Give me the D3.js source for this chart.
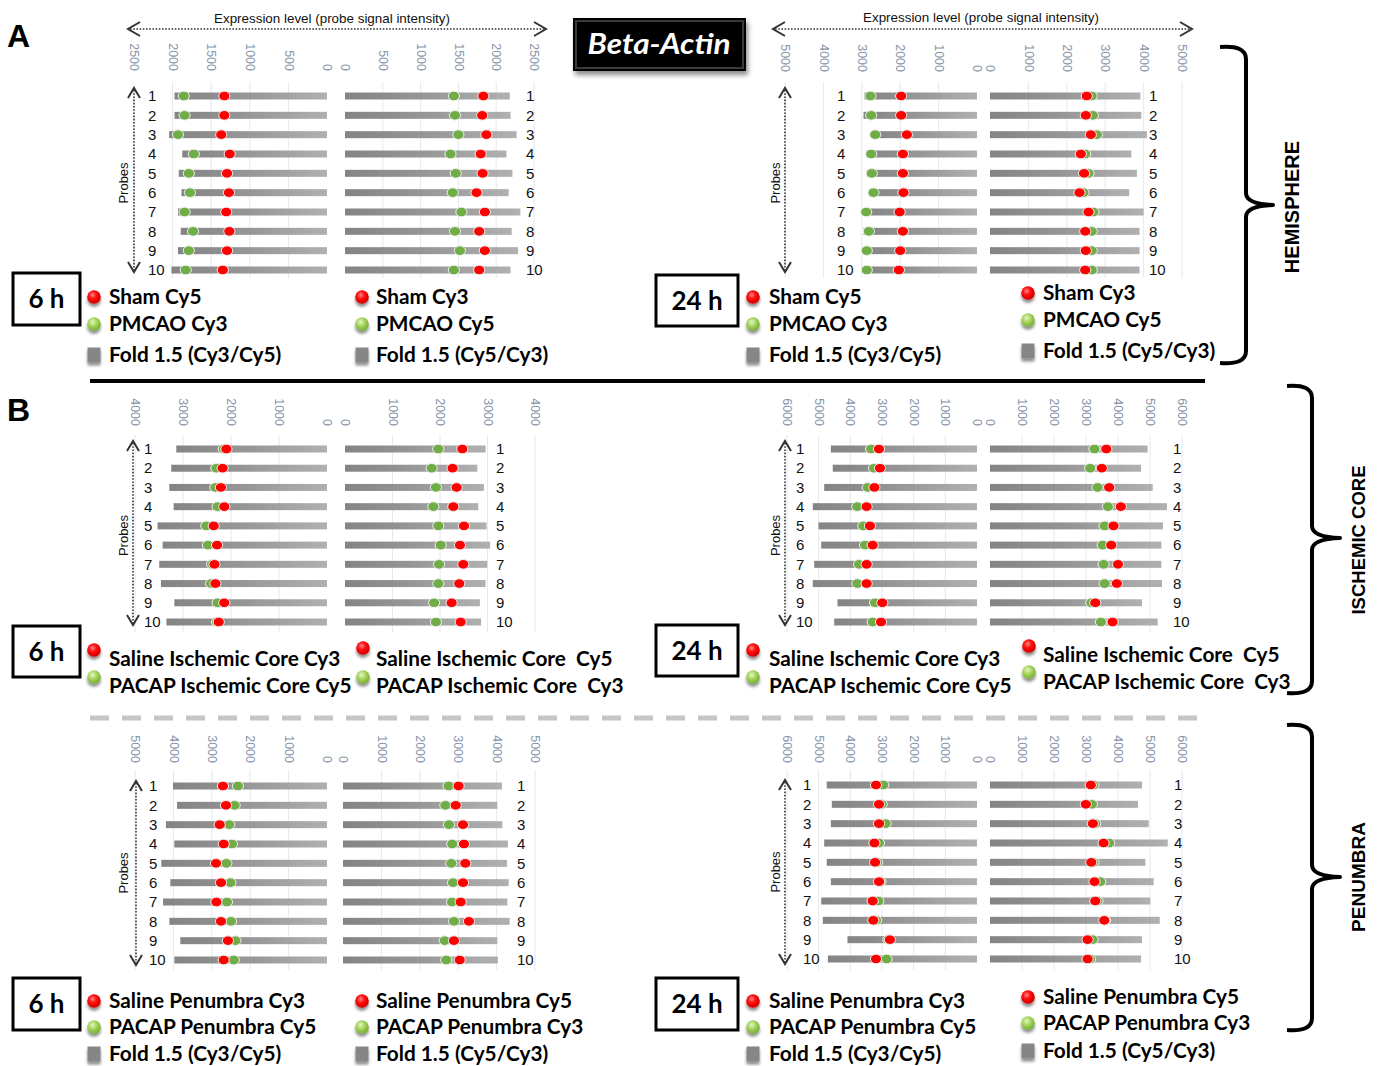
<!DOCTYPE html>
<html>
<head>
<meta charset="utf-8">
<script src="https://cdn.jsdelivr.net/npm/d3@7"></script>
<style>
  body { margin: 0; background: #fff; }
  svg { display: block; }
</style>
</head>
<body>
<svg id="fig" width="1384" height="1066"></svg>
<script>
// probes (rows) shared by every panel
const probes = [1, 2, 3, 4, 5, 6, 7, 8, 9, 10];

// tick values
const ticks2500 = [0, 500, 1000, 1500, 2000, 2500];
const ticks4000 = [0, 1000, 2000, 3000, 4000];
const ticks5000 = [0, 1000, 2000, 3000, 4000, 5000];
const ticks6000 = [0, 1000, 2000, 3000, 4000, 5000, 6000];

// A - hemisphere 6 h
const hemi6hLeftFold   = [1975, 1975, 2045, 1875, 1920, 1885, 1930, 1895, 1930, 2015];
const hemi6hLeftGreen  = [1855, 1845, 1930, 1725, 1790, 1775, 1845, 1735, 1790, 1830];
const hemi6hLeftRed    = [1330, 1330, 1370, 1260, 1295, 1270, 1305, 1265, 1295, 1350];
const hemi6hRightFold  = [2180, 2190, 2270, 2135, 2215, 2165, 2320, 2205, 2290, 2190];
const hemi6hRightGreen = [1440, 1455, 1500, 1395, 1465, 1425, 1540, 1455, 1520, 1440];
const hemi6hRightRed   = [1830, 1815, 1870, 1795, 1820, 1740, 1850, 1775, 1850, 1775];

// A - hemisphere 24 h
const hemi24hLeftFold   = [2930, 2955, 2755, 2885, 2870, 2815, 2990, 2955, 2955, 2975];
const hemi24hLeftGreen  = [2775, 2755, 2650, 2755, 2740, 2695, 2885, 2815, 2870, 2870];
const hemi24hLeftRed    = [1975, 1975, 1825, 1930, 1930, 1915, 2015, 1930, 2000, 2035];
const hemi24hRightFold  = [3915, 3940, 4085, 3680, 3825, 3625, 4000, 3895, 3895, 3895];
const hemi24hRightGreen = [2650, 2680, 2785, 2480, 2565, 2435, 2695, 2650, 2650, 2650];
const hemi24hRightRed   = [2520, 2495, 2625, 2365, 2450, 2330, 2565, 2480, 2495, 2480];

// B - ischemic core 6 h
const core6hLeftFold   = [3140, 3245, 3285, 3195, 3530, 3425, 3495, 3460, 3180, 3345];
const core6hLeftGreen  = [2150, 2305, 2325, 2280, 2515, 2480, 2395, 2415, 2280, 2290];
const core6hLeftRed    = [2095, 2175, 2210, 2140, 2360, 2290, 2345, 2325, 2140, 2255];
const core6hRightFold  = [2960, 2785, 2925, 2805, 2980, 3055, 2995, 2960, 2840, 2865];
const core6hRightGreen = [1965, 1825, 1915, 1860, 1965, 2015, 1980, 1965, 1875, 1915];
const core6hRightRed   = [2470, 2265, 2350, 2280, 2505, 2420, 2490, 2405, 2245, 2435];

// B - ischemic core 24 h
const core24hLeftFold   = [4615, 4555, 4825, 5185, 5005, 4920, 5140, 5185, 4405, 4510];
const core24hLeftGreen  = [3345, 3255, 3450, 3780, 3590, 3535, 3725, 3780, 3220, 3295];
const core24hLeftRed    = [3095, 3065, 3240, 3485, 3380, 3295, 3485, 3485, 2990, 3030];
const core24hRightFold  = [4925, 4720, 5085, 5530, 5405, 5355, 5355, 5375, 4750, 5240];
const core24hRightGreen = [3265, 3130, 3360, 3685, 3580, 3520, 3550, 3580, 3165, 3465];
const core24hRightRed   = [3635, 3495, 3725, 4090, 3860, 3790, 4000, 3965, 3290, 3830];

// B - penumbra 6 h
const pen6hLeftFold   = [4010, 3905, 4195, 3975, 4315, 4080, 4270, 4105, 3820, 3975];
const pen6hLeftGreen  = [2320, 2405, 2545, 2475, 2620, 2515, 2605, 2500, 2385, 2430];
const pen6hLeftRed    = [2710, 2630, 2795, 2690, 2890, 2760, 2880, 2760, 2580, 2690];
const pen6hRightFold  = [4140, 4020, 4150, 4295, 4270, 4315, 4280, 4340, 4020, 4035];
const pen6hRightGreen = [2750, 2665, 2760, 2845, 2820, 2865, 2840, 2890, 2650, 2690];
const pen6hRightRed   = [3010, 2935, 3125, 3150, 3185, 3125, 3065, 3280, 2890, 3040];

// B - penumbra 24 h
const pen24hLeftFold   = [4745, 4585, 4615, 4825, 4745, 4615, 4920, 4870, 4090, 4710];
const pen24hLeftGreen  = [2960, 3010, 2885, 3095, 3150, 3045, 3115, 3190, 2800, 2855];
const pen24hLeftRed    = [3190, 3095, 3095, 3240, 3220, 3095, 3295, 3275, 2750, 3190];
const pen24hRightFold  = [4750, 4625, 4960, 5555, 4855, 5115, 5010, 5305, 4750, 4720];
const pen24hRightGreen = [3235, 3185, 3290, 3725, 3235, 3445, 3360, 3600, 3205, 3130];
const pen24hRightRed   = [3150, 2995, 3215, 3550, 3165, 3265, 3290, 3570, 3050, 3050];

// legend texts
const hemiLegendLeft  = ['Sham Cy5', 'PMCAO Cy3', 'Fold 1.5 (Cy3/Cy5)'];
const hemiLegendRight = ['Sham Cy3', 'PMCAO Cy5', 'Fold 1.5 (Cy5/Cy3)'];
const coreLegendLeft  = ['Saline Ischemic Core Cy3', 'PACAP Ischemic Core Cy5'];
const coreLegendRight = ['Saline Ischemic Core  Cy5', 'PACAP Ischemic Core  Cy3'];
const penLegendLeft   = ['Saline Penumbra Cy3', 'PACAP Penumbra Cy5', 'Fold 1.5 (Cy3/Cy5)'];
const penLegendRight  = ['Saline Penumbra Cy5', 'PACAP Penumbra Cy3', 'Fold 1.5 (Cy5/Cy3)'];
const markerKinds = ['red', 'green', 'square'];

const AXIS_TITLE = 'Expression level (probe signal intensity)';
const LEGEND_FONT = 'Lato, "Open Sans", sans-serif';
const SANS = '"Liberation Sans", Arial, sans-serif';

const svg = d3.select('#fig');
const defs = svg.append('defs');

setupDefs();
drawFrame();

// panels
drawPanel({ max: 2500, ticks: ticks2500, leftZero: 327, leftMax: 134, rightZero: 345, rightMax: 534,
  tickY: 71, rowTop: 96, rowBottom: 270, gridTop: 82, gridBottom: 278,
  leftLabelX: 148, rightLabelX: 526, arrowX: 134, arrowTop: 88, arrowBottom: 272, probesX: 123,
  lf: hemi6hLeftFold, lg: hemi6hLeftGreen, lr: hemi6hLeftRed,
  rf: hemi6hRightFold, rg: hemi6hRightGreen, rr: hemi6hRightRed });

drawPanel({ max: 5000, ticks: ticks5000, leftZero: 977, leftMax: 785, rightZero: 990, rightMax: 1182,
  tickY: 72, rowTop: 96, rowBottom: 270, gridTop: 82, gridBottom: 278,
  leftLabelX: 837, rightLabelX: 1149, arrowX: 785, arrowTop: 88, arrowBottom: 272, probesX: 775,
  lf: hemi24hLeftFold, lg: hemi24hLeftGreen, lr: hemi24hLeftRed,
  rf: hemi24hRightFold, rg: hemi24hRightGreen, rr: hemi24hRightRed });

drawPanel({ max: 4000, ticks: ticks4000, leftZero: 327, leftMax: 135, rightZero: 345, rightMax: 535,
  tickY: 426, rowTop: 449, rowBottom: 622, gridTop: 435, gridBottom: 632,
  leftLabelX: 144, rightLabelX: 496, arrowX: 133, arrowTop: 441, arrowBottom: 625, probesX: 123,
  lf: core6hLeftFold, lg: core6hLeftGreen, lr: core6hLeftRed,
  rf: core6hRightFold, rg: core6hRightGreen, rr: core6hRightRed });

drawPanel({ max: 6000, ticks: ticks6000, leftZero: 977, leftMax: 787, rightZero: 990, rightMax: 1182,
  tickY: 426, rowTop: 449, rowBottom: 622, gridTop: 435, gridBottom: 632,
  leftLabelX: 796, rightLabelX: 1173, arrowX: 785, arrowTop: 441, arrowBottom: 625, probesX: 775,
  lf: core24hLeftFold, lg: core24hLeftGreen, lr: core24hLeftRed,
  rf: core24hRightFold, rg: core24hRightGreen, rr: core24hRightRed });

drawPanel({ max: 5000, ticks: ticks5000, leftZero: 327, leftMax: 135, rightZero: 343, rightMax: 535,
  tickY: 763, rowTop: 786, rowBottom: 960, gridTop: 770, gridBottom: 970,
  leftLabelX: 149, rightLabelX: 517, arrowX: 136, arrowTop: 781, arrowBottom: 965, probesX: 123,
  lf: pen6hLeftFold, lg: pen6hLeftGreen, lr: pen6hLeftRed,
  rf: pen6hRightFold, rg: pen6hRightGreen, rr: pen6hRightRed });

drawPanel({ max: 6000, ticks: ticks6000, leftZero: 977, leftMax: 787, rightZero: 990, rightMax: 1182,
  tickY: 763, rowTop: 785, rowBottom: 959, gridTop: 770, gridBottom: 970,
  leftLabelX: 803, rightLabelX: 1174, arrowX: 785, arrowTop: 780, arrowBottom: 964, probesX: 775,
  lf: pen24hLeftFold, lg: pen24hLeftGreen, lr: pen24hLeftRed,
  rf: pen24hRightFold, rg: pen24hRightGreen, rr: pen24hRightRed });

// axis titles with dotted arrows (panel A only)
axisTitle(332, 18, 128, 546, 29);
axisTitle(981, 17, 773, 1192, 29);

// time boxes
timeBox(13, 273, 67, 52, '6 h');
timeBox(656, 275, 82, 51, '24 h');
timeBox(13, 626, 67, 51, '6 h');
timeBox(656, 625, 82, 51, '24 h');
timeBox(13, 978, 67, 52, '6 h');
timeBox(656, 978, 82, 52, '24 h');

// legends
legend(94, 109, [297, 324, 355], hemiLegendLeft);
legend(362, 376, [297, 324, 355], hemiLegendRight);
legend(753, 769, [297, 324, 355], hemiLegendLeft);
legend(1028, 1043, [293, 320, 351], hemiLegendRight);

legend(94, 109, [650, 677], coreLegendLeft, [659, 686]);
legend(363, 376, [648, 677], coreLegendRight, [659, 686]);
legend(753, 769, [650, 677], coreLegendLeft, [659, 686]);
legend(1029, 1043, [646, 672], coreLegendRight, [655, 682]);

legend(94, 109, [1001, 1027, 1054], penLegendLeft);
legend(362, 376, [1001, 1027, 1054], penLegendRight);
legend(753, 769, [1001, 1027, 1054], penLegendLeft);
legend(1028, 1043, [997, 1023, 1051], penLegendRight);

function setupDefs () {
  const bar = defs.append('linearGradient').attr('id', 'barGrad')
    .attr('x1', 0).attr('x2', 1).attr('y1', 0).attr('y2', 0);
  bar.append('stop').attr('offset', '0%').attr('stop-color', '#848484');
  bar.append('stop').attr('offset', '45%').attr('stop-color', '#959595');
  bar.append('stop').attr('offset', '100%').attr('stop-color', '#b0b0b0');

  const red = defs.append('radialGradient').attr('id', 'redBall')
    .attr('cx', '40%').attr('cy', '35%').attr('r', '65%');
  red.append('stop').attr('offset', '0%').attr('stop-color', '#ff8a8a');
  red.append('stop').attr('offset', '45%').attr('stop-color', '#ff0a0a');
  red.append('stop').attr('offset', '100%').attr('stop-color', '#d40000');

  const green = defs.append('radialGradient').attr('id', 'greenBall')
    .attr('cx', '40%').attr('cy', '35%').attr('r', '65%');
  green.append('stop').attr('offset', '0%').attr('stop-color', '#e4f6c4');
  green.append('stop').attr('offset', '50%').attr('stop-color', '#a3d35a');
  green.append('stop').attr('offset', '100%').attr('stop-color', '#77ae36');

  const sh = defs.append('filter').attr('id', 'shadow')
    .attr('x', '-50%').attr('y', '-50%').attr('width', '200%').attr('height', '220%');
  sh.append('feDropShadow').attr('dx', 0).attr('dy', 3).attr('stdDeviation', 1.4)
    .attr('flood-color', '#000').attr('flood-opacity', 0.45);

  const boxSh = defs.append('filter').attr('id', 'boxShadow')
    .attr('x', '-20%').attr('y', '-20%').attr('width', '140%').attr('height', '150%');
  boxSh.append('feDropShadow').attr('dx', 2).attr('dy', 4).attr('stdDeviation', 2.5)
    .attr('flood-color', '#000').attr('flood-opacity', 0.45);
}

function drawFrame () {
  // panel letters
  svg.append('text').attr('x', 7).attr('y', 47).text('A')
    .style('font', `bold 32px ${SANS}`);
  svg.append('text').attr('x', 7).attr('y', 421).text('B')
    .style('font', `bold 32px ${SANS}`);

  // separators
  svg.append('line').attr('x1', 90).attr('x2', 1205).attr('y1', 381).attr('y2', 381)
    .attr('stroke', '#000').attr('stroke-width', 4);
  svg.append('line').attr('x1', 90).attr('x2', 1205).attr('y1', 718).attr('y2', 718)
    .attr('stroke', '#c6c6c6').attr('stroke-width', 5).attr('stroke-dasharray', '19,13');

  // title box
  const tb = svg.append('g');
  tb.append('rect').attr('x', 573).attr('y', 18).attr('width', 173).attr('height', 53)
    .attr('fill', '#000').attr('filter', 'url(#boxShadow)');
  tb.append('rect').attr('x', 576).attr('y', 21).attr('width', 167).attr('height', 47)
    .attr('fill', 'none').attr('stroke', '#3a3a3a').attr('stroke-width', 2);
  tb.append('text').attr('x', 659).attr('y', 54).attr('text-anchor', 'middle')
    .attr('textLength', 143).attr('lengthAdjust', 'spacingAndGlyphs')
    .text('Beta-Actin')
    .style('font', `italic bold 28px ${LEGEND_FONT}`).attr('fill', '#fff');

  // curly brackets
  brace(1220, 1246, 1273, 47, 205, 363);
  brace(1287, 1312, 1340, 386, 538, 693);
  brace(1287, 1312, 1340, 725, 877, 1030);

  sideLabel(1292, 207, 'HEMISPHERE', 20);
  sideLabel(1358, 540, 'ISCHEMIC CORE', 18.5);
  sideLabel(1358, 877, 'PENUMBRA', 19);
}

function brace (x0, xv, xt, top, mid, bottom) {
  const p = d3.path();
  p.moveTo(x0, top);
  p.quadraticCurveTo(xv, top - 2, xv, top + 12);
  p.lineTo(xv, mid - 12);
  p.quadraticCurveTo(xv, mid - 1, xt, mid);
  p.quadraticCurveTo(xv, mid + 1, xv, mid + 12);
  p.lineTo(xv, bottom - 12);
  p.quadraticCurveTo(xv, bottom + 2, x0, bottom);
  svg.append('path').attr('d', p.toString()).attr('fill', 'none')
    .attr('stroke', '#000').attr('stroke-width', 4).attr('stroke-linejoin', 'round');
}

function sideLabel (x, y, txt, size) {
  svg.append('text').attr('transform', `translate(${x},${y}) rotate(-90)`)
    .attr('text-anchor', 'middle').attr('dy', '0.36em').text(txt)
    .style('font', `bold ${size}px ${SANS}`);
}

function axisTitle (cx, cy, x1, x2, ay) {
  svg.append('text').attr('x', cx).attr('y', cy).attr('dy', '0.35em')
    .attr('text-anchor', 'middle').attr('textLength', 236).attr('lengthAdjust', 'spacingAndGlyphs')
    .text(AXIS_TITLE).style('font', `13px ${SANS}`).attr('fill', '#111');
  svg.append('line').attr('x1', x1 + 2).attr('x2', x2 - 2).attr('y1', ay).attr('y2', ay)
    .attr('stroke', '#333').attr('stroke-width', 1.6).attr('stroke-dasharray', '1.6,1.6');
  svg.append('path').attr('d', `M${x1 + 12},${ay - 7}L${x1},${ay}L${x1 + 12},${ay + 7}`)
    .attr('fill', 'none').attr('stroke', '#333').attr('stroke-width', 2);
  svg.append('path').attr('d', `M${x2 - 12},${ay - 7}L${x2},${ay}L${x2 - 12},${ay + 7}`)
    .attr('fill', 'none').attr('stroke', '#333').attr('stroke-width', 2);
}

function timeBox (x, y, w, h, txt) {
  svg.append('rect').attr('x', x).attr('y', y).attr('width', w).attr('height', h)
    .attr('fill', '#fff').attr('stroke', '#000').attr('stroke-width', 3);
  svg.append('text').attr('x', x + w / 2).attr('y', y + h / 2).attr('dy', '0.36em')
    .attr('text-anchor', 'middle').text(txt)
    .style('font', `bold 26px ${LEGEND_FONT}`);
}

function legend (mx, tx, ys, labels, textYs) {
  const g = svg.append('g');
  labels.forEach((lab, i) => {
    const kind = markerKinds[i];
    const y = ys[i];
    if (kind === 'red' || kind === 'green') {
      g.append('ellipse').attr('cx', mx).attr('cy', y).attr('rx', 6.8).attr('ry', 6.8)
        .attr('fill', kind === 'red' ? 'url(#redBall)' : 'url(#greenBall)')
        .attr('filter', 'url(#shadow)');
    } else {
      g.append('rect').attr('x', mx - 6.5).attr('y', y - 7.5).attr('width', 13).attr('height', 15)
        .attr('fill', '#868686').attr('filter', 'url(#shadow)');
    }
    const ty = textYs ? textYs[i] : y;
    g.append('text').attr('x', tx).attr('y', ty).attr('dy', '0.36em')
      .attr('xml:space', 'preserve').style('white-space', 'pre')
      .text(lab).style('font', `bold 20.8px ${LEGEND_FONT}`).attr('fill', '#000');
  });
}

function drawPanel (p) {
  const g = svg.append('g');
  const xL = d3.scaleLinear().domain([0, p.max]).range([p.leftZero, p.leftMax]);
  const xR = d3.scaleLinear().domain([0, p.max]).range([p.rightZero, p.rightMax]);
  const y = d3.scalePoint().domain(probes).range([p.rowTop, p.rowBottom]);

  // gridlines
  [xL, xR].forEach(x => {
    g.append('g').selectAll('line')
      .data(p.ticks.filter(t => t > 0))
      .join('line')
      .attr('x1', d => x(d)).attr('x2', d => x(d))
      .attr('y1', p.gridTop).attr('y2', p.gridBottom)
      .attr('stroke', '#e4e8f0').attr('stroke-width', 1);
  });

  // rotated tick labels
  [xL, xR].forEach(x => {
    const ax = g.append('g').attr('transform', `translate(0,${p.tickY})`)
      .call(d3.axisTop(x).tickValues(p.ticks).tickSize(0).tickFormat(d3.format('d')));
    ax.select('.domain').remove();
    ax.selectAll('text')
      .attr('x', 0).attr('y', 0).attr('dy', '0.35em')
      .attr('transform', 'rotate(90)')
      .attr('text-anchor', 'end')
      .attr('fill', '#8693a8')
      .style('font', `12.5px ${SANS}`);
  });

  // bars
  g.append('g').selectAll('rect')
    .data(probes)
    .join('rect')
    .attr('x', (d, i) => xL(p.lf[i]))
    .attr('width', (d, i) => xL(0) - xL(p.lf[i]))
    .attr('y', d => y(d) - 3.5).attr('height', 7)
    .attr('fill', 'url(#barGrad)');
  g.append('g').selectAll('rect')
    .data(probes)
    .join('rect')
    .attr('x', xR(0))
    .attr('width', (d, i) => xR(p.rf[i]) - xR(0))
    .attr('y', d => y(d) - 3.5).attr('height', 7)
    .attr('fill', 'url(#barGrad)');

  // dots: green under red
  const dots = [[xL, p.lg, '#70ad47'], [xR, p.rg, '#70ad47'], [xL, p.lr, '#ff0000'], [xR, p.rr, '#ff0000']];
  dots.forEach(([x, vals, col]) => {
    g.append('g').selectAll('ellipse')
      .data(probes)
      .join('ellipse')
      .attr('cx', (d, i) => x(vals[i]))
      .attr('cy', d => y(d))
      .attr('rx', 5.6).attr('ry', 4.8)
      .attr('fill', col)
      .attr('stroke', '#f2f2f2').attr('stroke-width', 1);
  });

  // row labels
  [p.leftLabelX, p.rightLabelX].forEach(lx => {
    g.append('g').selectAll('text')
      .data(probes)
      .join('text')
      .attr('x', lx).attr('y', d => y(d)).attr('dy', '0.35em')
      .text(d => d)
      .style('font', `15px ${SANS}`).attr('fill', '#111');
  });

  // probes arrow
  g.append('line').attr('x1', p.arrowX).attr('x2', p.arrowX)
    .attr('y1', p.arrowTop + 2).attr('y2', p.arrowBottom - 2)
    .attr('stroke', '#333').attr('stroke-width', 1.6).attr('stroke-dasharray', '1.6,1.6');
  g.append('path')
    .attr('d', `M${p.arrowX - 6},${p.arrowTop + 10}L${p.arrowX},${p.arrowTop}L${p.arrowX + 6},${p.arrowTop + 10}`)
    .attr('fill', 'none').attr('stroke', '#333').attr('stroke-width', 2);
  g.append('path')
    .attr('d', `M${p.arrowX - 6},${p.arrowBottom - 10}L${p.arrowX},${p.arrowBottom}L${p.arrowX + 6},${p.arrowBottom - 10}`)
    .attr('fill', 'none').attr('stroke', '#333').attr('stroke-width', 2);
  g.append('text')
    .attr('transform', `translate(${p.probesX},${(p.rowTop + p.rowBottom) / 2}) rotate(-90)`)
    .attr('text-anchor', 'middle').attr('dy', '0.35em')
    .text('Probes').style('font', `13px ${SANS}`).attr('fill', '#111');
}
</script>
</body>
</html>
